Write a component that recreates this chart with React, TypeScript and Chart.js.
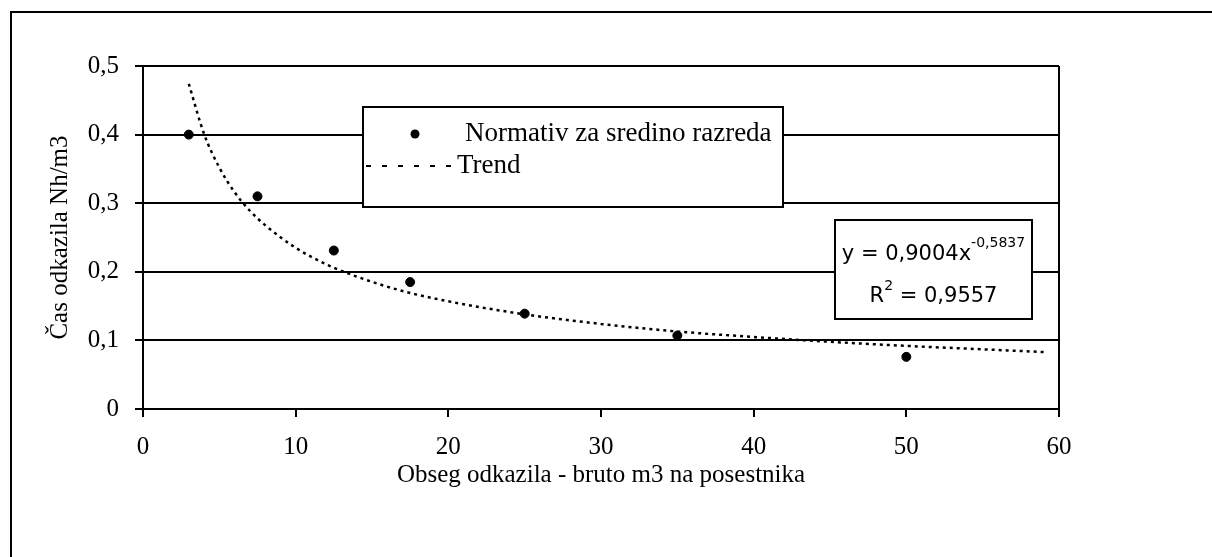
import React, { useEffect, useRef } from 'react';
import { Chart, registerables } from 'chart.js';

Chart.register(...registerables);

// ---- data ----
const pointX = [3, 7.5, 12.5, 17.5, 25, 35, 50];
const pointY = [0.4, 0.31, 0.231, 0.185, 0.139, 0.107, 0.076];

const trendX = [3, 4, 5, 6, 7, 8, 10, 12, 14, 17, 20, 25, 30, 35, 40, 45, 50, 55, 59];
const trendY = [0.474, 0.401, 0.352, 0.316, 0.289, 0.268, 0.235, 0.211, 0.193, 0.172, 0.157, 0.138, 0.124, 0.113, 0.105, 0.098, 0.092, 0.087, 0.083];

const yTickLabels = ['0', '0,1', '0,2', '0,3', '0,4', '0,5'];
const xTickValues = [0, 10, 20, 30, 40, 50, 60];

const seriesLabels = ['Normativ za sredino razreda', 'Trend'];
const eqCoef = '0,9004';
const eqExp = '-0,5837';
const eqR2 = '0,9557';

const xTitle = 'Obseg odkazila - bruto m3 na posestnika';
const yTitle = 'Čas odkazila Nh/m3';

const SERIF = '"Liberation Serif", "Times New Roman", serif';
const SANS = '"DejaVu Sans", sans-serif';

const overlayPlugin = {
  id: 'overlay',
  afterDraw(chart: any) {
    const ctx: CanvasRenderingContext2D = chart.ctx;
    ctx.save();
    // outer frame (top + left)
    ctx.strokeStyle = '#000';
    ctx.lineWidth = 2;
    ctx.setLineDash([]);
    ctx.beginPath();
    ctx.moveTo(10, 12);
    ctx.lineTo(1212, 12);
    ctx.moveTo(11, 12);
    ctx.lineTo(11, 557);
    ctx.stroke();

    // legend box
    const lx = 363, ly = 107, lw = 420, lh = 100;
    ctx.fillStyle = '#fff';
    ctx.fillRect(lx, ly, lw, lh);
    ctx.strokeRect(lx, ly, lw, lh);
    ctx.fillStyle = '#000';
    ctx.beginPath();
    ctx.arc(415, 134, 4.5, 0, Math.PI * 2);
    ctx.fill();
    ctx.font = `27px ${SERIF}`;
    ctx.textBaseline = 'middle';
    ctx.textAlign = 'left';
    ctx.fillText(seriesLabels[0], 465, 134);
    ctx.beginPath();
    ctx.setLineDash([5, 11]);
    ctx.lineWidth = 2;
    ctx.moveTo(366, 166);
    ctx.lineTo(452, 166);
    ctx.stroke();
    ctx.setLineDash([]);
    ctx.fillText(seriesLabels[1], 457, 166);

    // equation box
    const ex = 835, ey = 220, ew = 197, eh = 99;
    ctx.fillStyle = '#fff';
    ctx.fillRect(ex, ey, ew, eh);
    ctx.lineWidth = 2;
    ctx.strokeRect(ex, ey, ew, eh);
    ctx.fillStyle = '#000';
    ctx.textBaseline = 'alphabetic';
    const big = `21px ${SANS}`;
    const small = `14px ${SANS}`;
    const cx = ex + ew / 2;
    // line 1
    const l1a = `y = ${eqCoef}x`;
    ctx.font = big;
    const w1a = ctx.measureText(l1a).width;
    ctx.font = small;
    const w1b = ctx.measureText(eqExp).width;
    let sx = cx - (w1a + w1b) / 2;
    ctx.font = big;
    ctx.fillText(l1a, sx, 260);
    ctx.font = small;
    ctx.fillText(eqExp, sx + w1a, 247);
    // line 2
    const l2a = 'R';
    const l2b = '2';
    const l2c = ` = ${eqR2}`;
    ctx.font = big;
    const w2a = ctx.measureText(l2a).width;
    const w2c = ctx.measureText(l2c).width;
    ctx.font = small;
    const w2b = ctx.measureText(l2b).width;
    sx = cx - (w2a + w2b + w2c) / 2;
    ctx.font = big;
    ctx.fillText(l2a, sx, 302);
    ctx.font = small;
    ctx.fillText(l2b, sx + w2a, 290);
    ctx.font = big;
    ctx.fillText(l2c, sx + w2a + w2b, 302);
    ctx.restore();
  },
};

export default function App() {
  const ref = useRef<HTMLCanvasElement | null>(null);

  useEffect(() => {
    if (!ref.current) return;
    const chart = new Chart(ref.current, {
      type: 'scatter',
      data: {
        datasets: [
          {
            label: seriesLabels[0],
            data: pointX.map((x, i) => ({ x, y: pointY[i] })),
            backgroundColor: '#000',
            borderColor: '#000',
            pointRadius: 4.5,
            pointHoverRadius: 4.5,
            showLine: false,
          },
          {
            label: seriesLabels[1],
            data: trendX.map((x, i) => ({ x, y: trendY[i] })),
            borderColor: '#000',
            borderWidth: 2.5,
            borderDash: [3, 4],
            pointRadius: 0,
            showLine: true,
            cubicInterpolationMode: 'monotone',
            fill: false,
          },
        ],
      },
      options: {
        responsive: false,
        animation: false,
        devicePixelRatio: 1,
        layout: { padding: { left: 0, right: 153, top: 66, bottom: 48 } },
        plugins: {
          legend: { display: false },
          tooltip: { enabled: false },
        },
        scales: {
          x: {
            type: 'linear',
            min: xTickValues[0],
            max: xTickValues[xTickValues.length - 1],
            afterFit: (s: any) => {
              s.height = 100;
            },
            afterBuildTicks: (s: any) => {
              s.ticks = xTickValues.map((v) => ({ value: v }));
            },
            ticks: {
              color: '#000',
              font: { family: SERIF, size: 25 },
              padding: 15,
              maxRotation: 0,
              autoSkip: false,
            },
            grid: {
              color: (c: any) => (c.tick && c.tick.value === 60 ? '#000' : 'rgba(0,0,0,0)'),
              lineWidth: 2,
              tickColor: '#000',
              tickLength: 8,
              tickWidth: 2,
            },
            border: { color: '#000', width: 2 },
            title: {
              display: true,
              text: xTitle,
              color: '#000',
              font: { family: SERIF, size: 25 },
              padding: { top: 0, bottom: 19 },
            },
          },
          y: {
            type: 'linear',
            min: 0,
            max: 0.5,
            afterFit: (s: any) => {
              s.width = 143;
            },
            ticks: {
              stepSize: 0.1,
              color: '#000',
              font: { family: SERIF, size: 25 },
              padding: 16,
              callback: (v: any) => yTickLabels[Math.round(Number(v) * 10)],
            },
            grid: {
              color: '#000',
              lineWidth: 2,
              tickColor: '#000',
              tickLength: 8,
              tickWidth: 2,
            },
            border: { color: '#000', width: 2 },
            title: {
              display: true,
              text: yTitle,
              color: '#000',
              font: { family: SERIF, size: 25 },
              padding: { top: 45, bottom: 0 },
            },
          },
        },
      },
      plugins: [overlayPlugin],
    } as any);
    return () => chart.destroy();
  }, []);

  return (
    <div style={{ position: 'fixed', left: 0, top: 0, width: 1212, height: 557, background: '#fff' }}>
      <canvas ref={ref} width={1212} height={557} style={{ display: 'block', width: 1212, height: 557 }} />
    </div>
  );
}
